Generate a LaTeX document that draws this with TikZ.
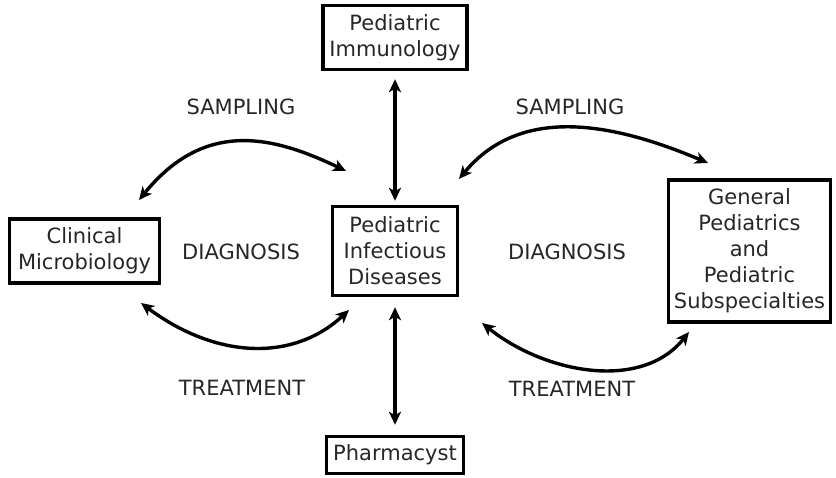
\documentclass[tikz,border=0pt]{standalone}
\usepackage{fontspec}
\setmainfont{DejaVu Sans}
\usetikzlibrary{arrows.meta}

\begin{document}
\begin{tikzpicture}[x=1pt,y=1pt,<->,>={Stealth[length=13pt,width=12pt,inset=3.5pt]},line width=3.4pt,
                    font=\fontsize{21}{26}\selectfont]
  \tikzstyle{unit}=[draw,align=center,inner sep=0pt,text=black!85]
  \tikzstyle{flow}=[text=black!85]
  \useasboundingbox (0,0) rectangle (836,478);

  \node[unit,minimum width=125pt,minimum height=89pt] (PID) at (395,227) {Pediatric\\Infectious\\Diseases};
  \node[unit,minimum width=144pt,minimum height=64pt] (PI)  [above of=PID,node distance=213.5pt] {Pediatric\\Immunology};
  \node[unit,minimum width=150pt,minimum height=64pt] (CM)  [left of=PID,node distance=310.5pt] {Clinical\\Microbiology};
  \node[unit,minimum width=162pt,minimum height=142pt] (GP) [right of=PID,node distance=354.5pt] {General\\Pediatrics\\and\\Pediatric\\Subspecialties};
  \node[unit,minimum width=137pt,minimum height=37pt] (PH)  [below of=PID,node distance=204pt] {Pharmacyst};

  \node[flow] (sampL)  at (241,371) {SAMPLING};
  \node[flow] (sampR)  at (570,371) {SAMPLING};
  \node[flow] (diagL)  at (241,226) {DIAGNOSIS};
  \node[flow] (diagR)  at (567,226) {DIAGNOSIS};
  \node[flow] (treatL) at (242,90)  {TREATMENT};
  \node[flow] (treatR) at (572,89)  {TREATMENT};

  \coordinate (slA) at (139,278);
  \coordinate (slB) at (346,307);
  \coordinate (srA) at (459,299);
  \coordinate (srB) at (708,315);
  \coordinate (tlA) at (141,175);
  \coordinate (tlB) at (349,168);
  \coordinate (trA) at (482,155);
  \coordinate (trB) at (689,146);

  \draw (slA) .. controls +(66,81) and +(-73,35) .. (slB);
  \draw (srA) .. controls +(61,73.5) and +(-97,41) .. (srB);
  \draw (tlA) .. controls +(75,-56) and +(-56,-52) .. (tlB);
  \draw (trA) .. controls +(64,-51) and +(-47,-59) .. (trB);
  \path (PI)  edge[shorten <=8pt,shorten >=4pt]   (PID)
        (PID) edge[shorten <=10pt,shorten >=10pt] (PH);
\end{tikzpicture}
\end{document}
